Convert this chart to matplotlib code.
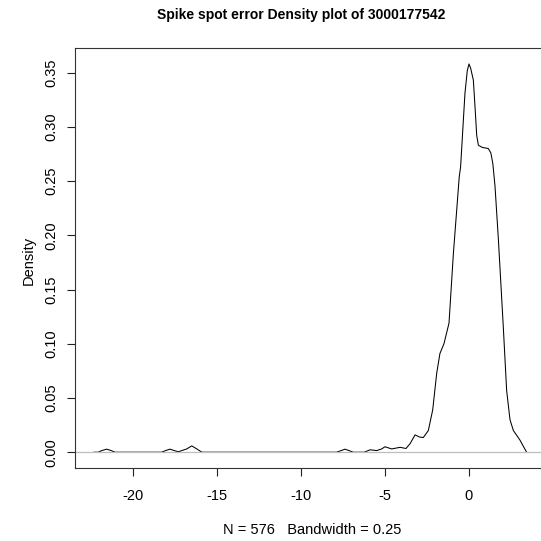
import matplotlib
matplotlib.use("Agg")
import matplotlib.pyplot as plt

# density curve
dens_x = [-22.32, -22.07, -21.85, -21.57, -21.3, -21.07,
          -18.3, -18.05, -17.8, -17.55, -17.3, -16.8, -16.5, -16.2, -15.9,
          -7.88, -7.6, -7.38, -7.15, -6.89,
          -6.23, -6.0, -5.89, -5.49, -5.2, -5.0, -4.6, -4.1, -3.75, -3.5,
          -3.21, -2.95, -2.72, -2.42, -2.16, -1.92, -1.73, -1.49, -1.19,
          -0.93, -0.58, -0.5, -0.24, -0.1, 0.0, 0.1, 0.26, 0.36, 0.46, 0.56,
          0.8, 1.15, 1.3, 1.42, 1.55, 1.75, 2.04, 2.24, 2.44, 2.64, 3.04, 3.25, 3.43]
dens_y = [0.0, 0.0, 0.0015, 0.0028, 0.0015, 0.0,
          0.0, 0.0015, 0.0028, 0.0015, 0.0004, 0.003, 0.0058, 0.003, 0.0,
          0.0, 0.0015, 0.0028, 0.0015, 0.0,
          0.0, 0.0015, 0.0022, 0.0015, 0.003, 0.005, 0.003, 0.0045, 0.0034, 0.008,
          0.016, 0.014, 0.0135, 0.020, 0.039, 0.073, 0.091, 0.100, 0.119,
          0.183, 0.254, 0.263, 0.331, 0.352, 0.358, 0.354, 0.343, 0.318, 0.292, 0.283,
          0.281, 0.280, 0.276, 0.266, 0.245, 0.196, 0.116, 0.057, 0.030, 0.020, 0.011, 0.005, 0.0]

xticks = [-20, -15, -10, -5, 0]
yticks = [0.00, 0.05, 0.10, 0.15, 0.20, 0.25, 0.30, 0.35]

plt.rcParams['font.family'] = ['Liberation Sans', 'DejaVu Sans']

fig = plt.figure(figsize=(5.41, 5.41), dpi=100)
ax = fig.add_axes([75/541, 73.3/541, 469.6/541, 419.7/541])

ax.plot(dens_x, dens_y, color='black', lw=0.75, zorder=1)
# zero line drawn on top of the curve, as R does
ax.axhline(0, color='#bebebe', lw=0.9, zorder=2)

ax.set_xlim(-23.45, 4.5)
ax.set_ylim(-0.0143, 0.3727)
ax.set_xticks(xticks)
ax.set_xticklabels([str(t) for t in xticks])
ax.set_yticks(yticks)
ax.set_yticklabels(['%.2f' % t for t in yticks], rotation=90, va='center')
ax.tick_params(axis='both', length=6, width=0.8, labelsize=10.5, color='#222222')
ax.tick_params(axis='x', pad=9)
ax.tick_params(axis='y', pad=6)
for s in ax.spines.values():
    s.set_color('#333333')
    s.set_linewidth(0.8)

fig.text(301.5/541, 1 - 14.5/541, 'Spike spot error Density plot of 3000177542',
         ha='center', va='center', fontsize=10, fontweight='bold')
fig.text(311.7/541, 1 - 530/541, 'N = 576   Bandwidth = 0.25',
         ha='center', va='center', fontsize=10.5)
fig.text(28.5/541, 1 - 260/541, 'Density', rotation=90,
         ha='center', va='center', fontsize=10.5)

fig.savefig('out.png', dpi=100)
